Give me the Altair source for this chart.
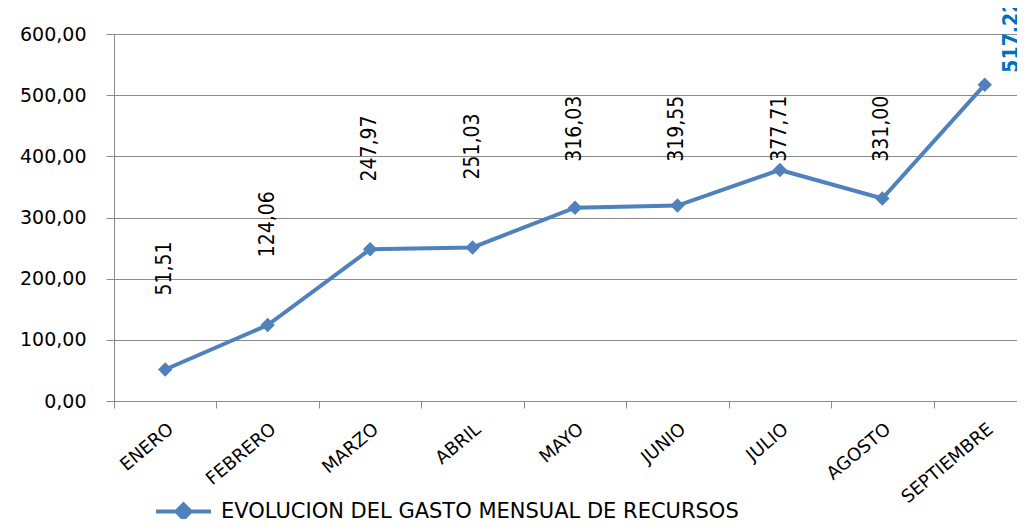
import altair as alt
import pandas as pd

months = ["ENERO", "FEBRERO", "MARZO", "ABRIL", "MAYO", "JUNIO", "JULIO", "AGOSTO", "SEPTIEMBRE"]
values = [51.51, 124.06, 247.97, 251.03, 316.03, 319.55, 377.71, 331.00, 517.22]
series_name = "EVOLUCION DEL GASTO MENSUAL DE RECURSOS"
y_ticks = [0, 100, 200, 300, 400, 500, 600]

df = pd.DataFrame({"mes": months, "valor": values, "serie": [series_name] * len(months)})

BLUE = "#4F81BD"
GRID = "#8C8C8C"

x_enc = alt.X(
    "mes:N",
    sort=months,
    scale=alt.Scale(type="band", paddingInner=0, paddingOuter=0),
    axis=alt.Axis(
        title=None,
        labelAngle=-40,
        labelFont="DejaVu Sans",
        labelFontSize=18,
        labelColor="black",
        labelPadding=12,
        tickBand="extent",
        tickSize=7,
        tickColor=GRID,
        domainColor=GRID,
        grid=False,
    ),
)
y_enc = alt.Y(
    "valor:Q",
    scale=alt.Scale(domain=[0, 600], nice=False),
    axis=alt.Axis(
        title=None,
        values=y_ticks,
        labelExpr="replace(format(datum.value, '.2f'), '.', ',')",
        labelFont="DejaVu Sans",
        labelFontSize=19,
        labelColor="black",
        labelPadding=20,
        tickSize=8,
        tickColor=GRID,
        domainColor=GRID,
        gridColor=GRID,
        gridWidth=1,
    ),
)

base = alt.Chart(df).encode(x=x_enc)

line = base.mark_line(
    strokeWidth=4,
    point=alt.OverlayMarkDef(shape="diamond", size=210, filled=True, opacity=1),
).encode(
    y=y_enc,
    color=alt.Color(
        "serie:N",
        scale=alt.Scale(range=[BLUE]),
        legend=alt.Legend(
            title=None,
            orient="none",
            legendX=40,
            legendY=448,
            labelFont="DejaVu Sans",
            labelFontSize=21,
            labelColor="black",
            labelLimit=0,
            symbolType="M-1,0L1,0M0,-0.26L0.26,0L0,0.26L-0.26,0Z",
            symbolSize=3025,
            symbolStrokeWidth=4,
            symbolFillColor=BLUE,
            symbolStrokeColor=BLUE,
            labelOffset=8,
        ),
    ),
)

labels = base.transform_filter(
    alt.datum.mes != "SEPTIEMBRE"
).transform_calculate(
    etiqueta="replace(format(datum.valor, '.2f'), '.', ',')",
    pos="min(datum.valor + 165, 445)",
).mark_text(
    angle=270, align="center", baseline="middle", font="DejaVu Sans Condensed",
    fontSize=21, color="black",
).encode(
    y=alt.Y("pos:Q", scale=alt.Scale(domain=[0, 600], nice=False)),
    text="etiqueta:N",
)

last_label = base.transform_filter(
    alt.datum.mes == "SEPTIEMBRE"
).transform_calculate(
    etiqueta="replace(format(datum.valor, '.2f'), '.', ',')",
).mark_text(
    angle=270, align="left", baseline="middle", font="DejaVu Sans Condensed",
    fontSize=21, fontWeight="bold", color="#0070C0", dx=12, dy=27,
).encode(
    y=alt.Y("valor:Q", scale=alt.Scale(domain=[0, 600], nice=False)),
    text="etiqueta:N",
)

chart = alt.layer(line, labels, last_label).properties(
    width=922,
    height=367,
    autosize=alt.AutoSizeParams(type="none"),
    padding={"left": 106, "top": 26, "right": -19, "bottom": 118},
    background="white",
).configure_view(stroke="transparent")

chart.save("out.html", embed_options={"renderer": "svg", "actions": False})
